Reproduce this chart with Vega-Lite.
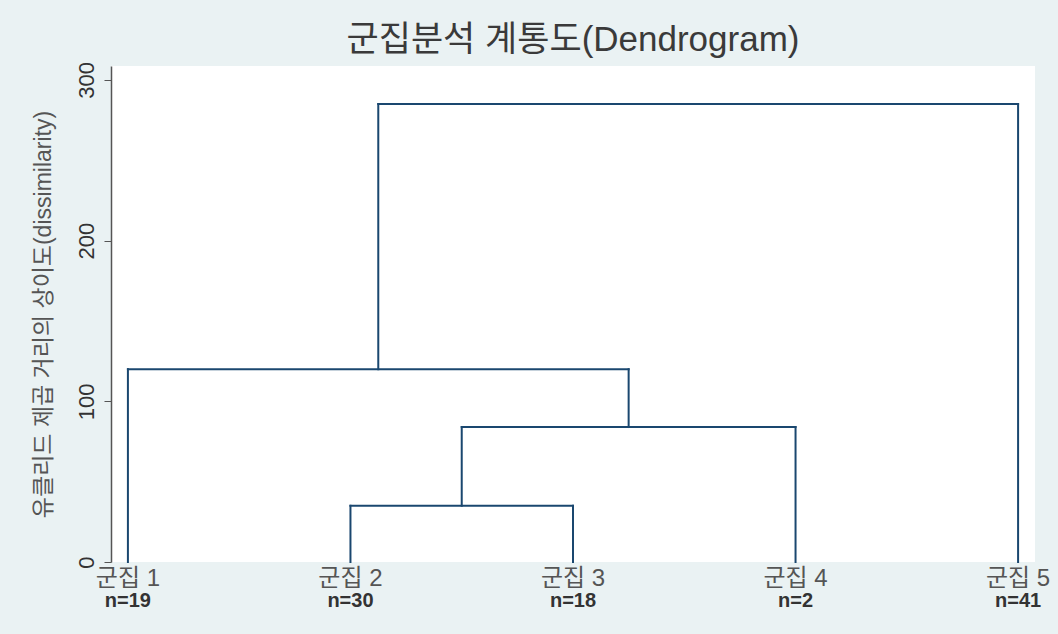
{
  "$schema": "https://vega.github.io/schema/vega-lite/v6.json",
  "width": 924,
  "height": 496,
  "autosize": {"type": "none"},
  "padding": {"left": 111, "top": 66, "right": 23, "bottom": 72},
  "background": "#eaf2f3",
  "view": {"fill": "white", "stroke": null},
  "title": {
    "text": "군집분석 계통도(Dendrogram)",
    "font": "Liberation Sans, Noto Sans CJK KR",
    "fontSize": 35,
    "fontWeight": "normal",
    "color": "#3a3a3a",
    "anchor": "middle",
    "offset": 4
  },
  "config": {
    "font": "Liberation Sans, Noto Sans CJK KR"
  },
  "datasets": {
    "segments": [
      {"x": 1, "x2": 1, "y": 0, "y2": 120},
      {"x": 2, "x2": 2, "y": 0, "y2": 35},
      {"x": 3, "x2": 3, "y": 0, "y2": 35},
      {"x": 4, "x2": 4, "y": 0, "y2": 84},
      {"x": 5, "x2": 5, "y": 0, "y2": 285},
      {"x": 2, "x2": 3, "y": 35, "y2": 35},
      {"x": 2.5, "x2": 2.5, "y": 35, "y2": 84},
      {"x": 2.5, "x2": 4, "y": 84, "y2": 84},
      {"x": 3.25, "x2": 3.25, "y": 84, "y2": 120},
      {"x": 1, "x2": 3.25, "y": 120, "y2": 120},
      {"x": 2.125, "x2": 2.125, "y": 120, "y2": 285},
      {"x": 2.125, "x2": 5, "y": 285, "y2": 285}
    ],
    "leaves": [
      {"pos": 1, "name": "군집 1", "n": "n=19"},
      {"pos": 2, "name": "군집 2", "n": "n=30"},
      {"pos": 3, "name": "군집 3", "n": "n=18"},
      {"pos": 4, "name": "군집 4", "n": "n=2"},
      {"pos": 5, "name": "군집 5", "n": "n=41"}
    ]
  },
  "layer": [
    {
      "data": {"name": "segments"},
      "mark": {"type": "rule", "color": "#1a476f", "strokeWidth": 2, "strokeCap": "square"},
      "encoding": {
        "x": {"field": "x", "type": "quantitative", "scale": {"domain": [0.924, 5.076], "nice": false, "zero": false}, "axis": null},
        "x2": {"field": "x2"},
        "y": {
          "field": "y", "type": "quantitative",
          "scale": {"domain": [0, 308.7], "nice": false},
          "axis": {
            "values": [0, 100, 200, 300],
            "title": "유클리드 제곱 거리의 상이도(dissimilarity)",
            "titleFontSize": 23,
            "titleFontWeight": "normal",
            "titleColor": "#555555",
            "titlePadding": 20,
            "labelAngle": -90,
            "labelAlign": "center",
            "labelBaseline": "bottom",
            "labelFontSize": 22,
            "labelColor": "#333333",
            "labelPadding": 6,
            "tickSize": 7,
            "tickColor": "#555555",
            "domainColor": "#555555",
            "domainWidth": 1.5,
            "grid": false
          }
        },
        "y2": {"field": "y2"}
      }
    },
    {
      "data": {"name": "leaves"},
      "mark": {"type": "text", "baseline": "middle", "align": "center", "dy": 17, "fontSize": 24, "color": "#555555"},
      "encoding": {
        "x": {"field": "pos", "type": "quantitative"},
        "y": {"datum": 0},
        "text": {"field": "name"}
      }
    },
    {
      "data": {"name": "leaves"},
      "mark": {"type": "text", "baseline": "middle", "align": "center", "dy": 39, "fontSize": 20, "fontWeight": "bold", "color": "#333333"},
      "encoding": {
        "x": {"field": "pos", "type": "quantitative"},
        "y": {"datum": 0},
        "text": {"field": "n"}
      }
    }
  ]
}
